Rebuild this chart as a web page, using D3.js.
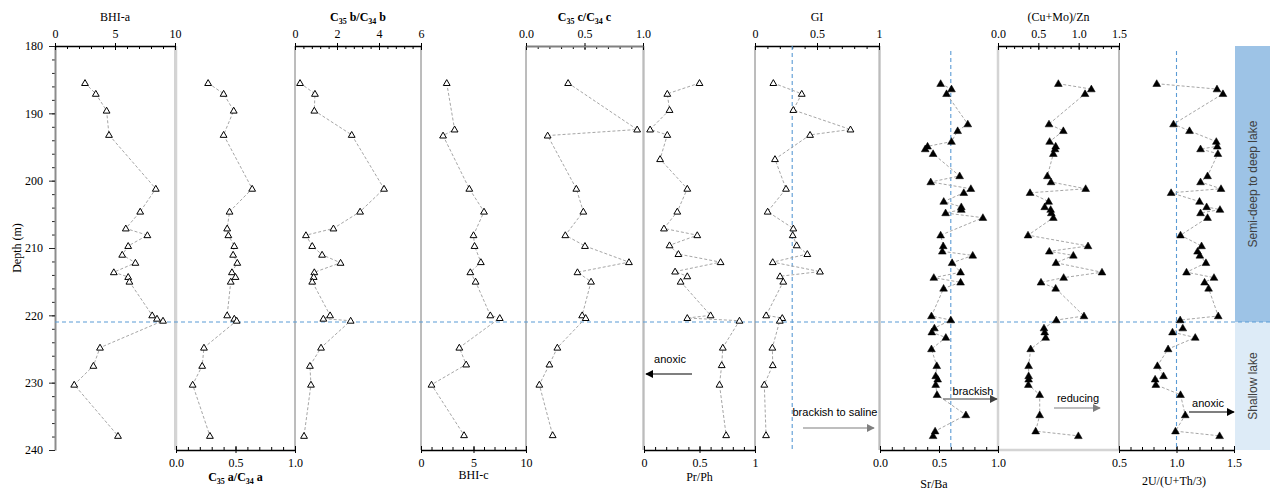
<!DOCTYPE html>
<html><head><meta charset="utf-8">
<script src="https://cdn.jsdelivr.net/npm/d3@7"></script>
<style>body{margin:0;background:#fff}svg{display:block}</style>
</head><body>
<svg id="chart" width="1270" height="494"></svg>
<script>
// ---------------- DATA ----------------
const depthTicks = [180, 190, 200, 210, 220, 230, 240];

// a / b series (BHI-a, C35a/C34a, C35b/C34b)
const depthAB = [185.5, 187.1, 189.6, 193.2, 201.2, 204.6, 207.1, 208.1, 209.7, 211.0, 212.2, 213.6, 214.3, 215.0, 220.0, 220.5, 220.8, 224.8, 227.5, 230.3, 237.9];
const bhiA = [2.5, 3.4, 4.3, 4.5, 8.4, 7.1, 5.9, 7.7, 6.1, 5.6, 6.7, 4.9, 6.1, 6.2, 8.1, 8.5, 9.0, 3.75, 3.2, 1.6, 5.25];
const c35a = [0.27, 0.40, 0.485, 0.40, 0.64, 0.45, 0.43, 0.44, 0.49, 0.48, 0.515, 0.47, 0.50, 0.46, 0.43, 0.49, 0.51, 0.235, 0.22, 0.14, 0.285];
const c35b = [0.24, 0.95, 0.92, 2.7, 4.24, 3.1, 1.83, 0.52, 0.82, 1.29, 2.17, 0.92, 0.89, 0.82, 1.67, 1.35, 2.65, 1.24, 0.71, 0.76, 0.43];

// c series (BHI-c, C35c/C34c)
const depthC = [185.5, 192.4, 193.3, 201.2, 204.6, 208.1, 209.7, 212.1, 213.6, 215.0, 220.0, 220.4, 224.8, 227.3, 230.3, 237.8];
const bhiC = [2.45, 3.2, 2.1, 4.6, 6.0, 5.0, 5.1, 5.7, 4.7, 5.2, 6.6, 7.5, 3.65, 4.3, 1.0, 4.1];
const c35c = [0.36, 0.95, 0.185, 0.43, 0.49, 0.336, 0.504, 0.88, 0.44, 0.556, 0.48, 0.51, 0.268, 0.2, 0.114, 0.228];

// Pr/Ph and GI
const depthPG = [185.5, 187.1, 189.5, 192.4, 193.2, 196.8, 201.2, 204.6, 207.1, 208.1, 209.6, 210.9, 212.1, 213.5, 214.2, 215.0, 220.0, 220.4, 220.8, 224.8, 227.4, 230.3, 237.8];
const prPh = [0.50, 0.21, 0.23, 0.055, 0.21, 0.145, 0.39, 0.30, 0.18, 0.48, 0.23, 0.31, 0.69, 0.28, 0.39, 0.33, 0.60, 0.39, 0.86, 0.71, 0.70, 0.68, 0.74];
const gi = [0.148, 0.377, 0.309, 0.77, 0.444, 0.161, 0.25, 0.102, 0.309, 0.304, 0.336, 0.422, 0.143, 0.524, 0.202, 0.228, 0.09, 0.22, 0.2, 0.14, 0.143, 0.075, 0.089];

// elemental series
const depthEl = [185.6, 186.4, 187.1, 191.6, 192.6, 194.2, 194.9, 195.3, 196.0, 199.3, 200.2, 201.2, 201.8, 203.1, 203.9, 204.3, 204.8, 205.5, 208.1, 209.7, 210.5, 211.1, 212.2, 213.6, 214.4, 215.1, 216.0, 220.1, 220.7, 221.9, 222.5, 223.3, 225.0, 227.5, 229.0, 229.5, 230.3, 231.8, 234.8, 237.2, 237.9];
const srBa = [0.514, 0.606, 0.564, 0.744, 0.658, 0.606, 0.403, 0.383, 0.45, 0.675, 0.43, 0.77, 0.71, 0.54, 0.689, 0.689, 0.556, 0.872, 0.514, 0.536, 0.528, 0.786, 0.611, 0.683, 0.456, 0.683, 0.539, 0.436, 0.6, 0.461, 0.439, 0.558, 0.436, 0.481, 0.472, 0.489, 0.472, 0.483, 0.728, 0.467, 0.45];
const cuMoZn = [0.748, 1.157, 1.079, 0.632, 0.81, 0.64, 0.715, 0.707, 0.686, 0.612, 0.657, 1.087, 0.397, 0.628, 0.579, 0.653, 0.661, 0.686, 0.372, 1.116, 0.636, 0.934, 0.719, 1.289, 0.814, 0.533, 0.715, 1.066, 0.723, 0.57, 0.579, 0.591, 0.405, 0.38, 0.38, 0.38, 0.376, 0.517, 0.517, 0.467, 0.996];
const uTh = [0.828, 1.352, 1.404, 0.974, 1.113, 1.346, 1.355, 1.209, 1.36, 1.27, 1.209, 1.387, 0.953, 1.2, 1.262, 1.378, 1.209, 1.27, 1.035, 1.218, 1.183, 1.203, 1.256, 1.087, 1.326, 1.244, 1.279, 1.363, 1.032, 1.055, 0.965, 1.163, 0.927, 0.834, 0.887, 0.814, 0.82, 1.035, 1.076, 0.991, 1.375];

// reference thresholds
const boundaryDepth = 221;
const giThreshold = 0.3;
const srBaThreshold = 0.6;
const uThThreshold = 1.0;

const zoneLabels = ["Semi-deep to deep lake", "Shallow lake"];

// ---------------- DRAWING ----------------
const svg = d3.select('#chart');
const serif = "'Liberation Serif','Times New Roman',serif";
const sans = "'Liberation Sans',Arial,sans-serif";
const TOP = 46, BOT = 450;
const y = d3.scaleLinear().domain([180, 240]).range([TOP, BOT]);

const f0 = d3.format('d'), f1 = d3.format('.1f');
const fg = d => (d === 0 || d === 1) ? f0(d) : String(d);

const panels = [
  {title: [['BHI-a', 0]], bold: false, x0: 55, x1: 175, dom: [0, 10], major: [0, 5, 10], minor: 1, fmt: f0, side: 'top', depth: depthAB, vals: bhiA, filled: false},
  {title: [['C', 0], ['35', 1], [' a/C', 0], ['34', 1], [' a', 0]], bold: true, x0: 176, x1: 295, dom: [0, 1], major: [0, 0.5, 1], minor: 0.1, fmt: f1, side: 'bottom', depth: depthAB, vals: c35a, filled: false, titleY: 481},
  {title: [['C', 0], ['35', 1], [' b/C', 0], ['34', 1], [' b', 0]], bold: true, x0: 295, x1: 421, dom: [0, 6], major: [0, 2, 4, 6], minor: 0.4, fmt: f0, side: 'top', depth: depthAB, vals: c35b, filled: false},
  {title: [['BHI-c', 0]], bold: false, x0: 421, x1: 526, dom: [0, 10], major: [0, 5, 10], minor: 1, fmt: f0, side: 'bottom', depth: depthC, vals: bhiC, filled: false, titleY: 479},
  {title: [['C', 0], ['35', 1], [' c/C', 0], ['34', 1], [' c', 0]], bold: true, x0: 526, x1: 643, dom: [0, 1], major: [0, 0.5, 1], minor: 0.1, fmt: f1, side: 'top', depth: depthC, vals: c35c, filled: false, axisColor: '#808080', axisW: 2},
  {title: [['Pr/Ph', 0]], bold: false, x0: 644, x1: 755, dom: [0, 1], major: [0, 0.5, 1], minor: 0.1, fmt: fg, side: 'bottom', depth: depthPG, vals: prPh, filled: false, titleY: 481},
  {title: [['GI', 0]], bold: false, x0: 755, x1: 879, dom: [0, 1], major: [0, 0.5, 1], minor: 0.1, fmt: fg, side: 'top', depth: depthPG, vals: gi, filled: false},
  {title: [['Sr/Ba', 0]], bold: false, x0: 880, x1: 998, dom: [0, 1], major: [0, 0.5, 1], minor: 0.1, fmt: f1, side: 'bottom', depth: depthEl, vals: srBa, filled: true, titleY: 488, titleX: 934},
  {title: [['(Cu+Mo)/Zn', 0]], bold: false, x0: 998, x1: 1119, dom: [0, 1.5], major: [0, 0.5, 1, 1.5], minor: 0.1, fmt: f1, side: 'top', depth: depthEl, vals: cuMoZn, filled: true, lightLeft: true},
  {title: [['2U/(U+Th/3)', 0]], bold: false, x0: 1119, x1: 1234, dom: [0.5, 1.5], major: [0.5, 1, 1.5], minor: 0.1, fmt: f1, side: 'bottom', depth: depthEl, vals: uTh, filled: true, titleY: 485, titleX: 1174}
];
panels.forEach(p => { p.x = d3.scaleLinear().domain(p.dom).range([p.x0, p.x1]); });

// zone band
const bandX0 = 1235, bandX1 = 1270;
svg.append('rect').attr('x', bandX0).attr('y', TOP).attr('width', bandX1 - bandX0)
  .attr('height', y(boundaryDepth) - TOP).attr('fill', '#9DC3E6');
svg.append('rect').attr('x', bandX0).attr('y', y(boundaryDepth)).attr('width', bandX1 - bandX0)
  .attr('height', BOT - y(boundaryDepth)).attr('fill', '#DDEBF7');
const bandMid = (bandX0 + bandX1) / 2;
[[zoneLabels[0], (TOP + y(boundaryDepth)) / 2], [zoneLabels[1], (y(boundaryDepth) + BOT) / 2]].forEach(([t, cy]) => {
  svg.append('text').attr('transform', `translate(${bandMid + 4},${cy}) rotate(-90)`)
    .attr('text-anchor', 'middle').attr('font-family', sans).attr('font-size', 12)
    .attr('fill', '#404040').text(t);
});

// panel borders
panels.forEach((p, i) => {
  const g = svg.append('g');
  if (i > 0) {
    g.append('line').attr('x1', p.x0).attr('x2', p.x0).attr('y1', TOP).attr('y2', BOT)
      .attr('stroke', (p.lightLeft || i === 1) ? '#D4D4D4' : '#A6A6A6').attr('stroke-width', (p.lightLeft || i === 1) ? 2.5 : 1);
  }
  if (i < panels.length - 1) {
    g.append('line').attr('x1', p.x1).attr('x2', p.x1).attr('y1', TOP).attr('y2', BOT)
      .attr('stroke', '#A6A6A6').attr('stroke-width', 1);
  }
  if (p.lightLeft) {
    g.append('line').attr('x1', p.x0).attr('x2', p.x1).attr('y1', BOT).attr('y2', BOT)
      .attr('stroke', '#D4D4D4').attr('stroke-width', 2.5);
  }
});

// y axis
const yAxisG = svg.append('g').attr('transform', `translate(55,0)`);
yAxisG.call(d3.axisLeft(y).tickValues(d3.range(180, 240.01, 2)).tickSize(3).tickFormat('').tickSizeOuter(0));
yAxisG.call(g => g.select('.domain').remove());
const yMaj = svg.append('g').attr('transform', `translate(55,0)`)
  .call(d3.axisLeft(y).tickValues(depthTicks).tickSize(6).tickPadding(6).tickSizeOuter(0));
yMaj.select('.domain').attr('stroke', '#8C8C8C').attr('stroke-width', 2);
[yAxisG, yMaj].forEach(g => g.selectAll('.tick line').attr('stroke', '#262626'));
yMaj.selectAll('text').attr('font-family', serif).attr('font-size', 12).attr('fill', '#000');
svg.append('text').attr('transform', `translate(21,${(TOP + BOT) / 2}) rotate(-90)`)
  .attr('text-anchor', 'middle').attr('font-family', serif).attr('font-size', 12).text('Depth (m)');

// x axes
panels.forEach(p => {
  const ty = p.side === 'top' ? TOP : BOT;
  const mk = p.side === 'top' ? d3.axisTop : d3.axisBottom;
  const minorVals = d3.range(p.dom[0], p.dom[1] + 1e-9, p.minor).map(v => +v.toFixed(4));
  // minor ticks (inward)
  const gm = svg.append('g').attr('transform', `translate(0,${ty})`)
    .call(mk(p.x).tickValues(minorVals).tickSize(-3).tickFormat('').tickSizeOuter(0));
  gm.select('.domain').remove();
  // major inward part
  const gi2 = svg.append('g').attr('transform', `translate(0,${ty})`)
    .call(mk(p.x).tickValues(p.major).tickSize(-4).tickFormat('').tickSizeOuter(0));
  gi2.select('.domain').remove();
  // major outward + labels
  const ga = svg.append('g').attr('transform', `translate(0,${ty})`)
    .call(mk(p.x).tickValues(p.major).tickSize(3).tickPadding(5).tickFormat(p.fmt).tickSizeOuter(0));
  ga.select('.domain').attr('stroke', p.axisColor || '#000').attr('stroke-width', p.axisW || 1.3);
  [gm, gi2, ga].forEach(g => g.selectAll('.tick line').attr('stroke', '#000'));
  ga.selectAll('text').attr('font-family', serif).attr('font-size', 12).attr('fill', '#000');

  // title
  const tx = p.titleX || (p.x0 + p.x1) / 2;
  const tyT = p.side === 'top' ? 21 : p.titleY;
  const t = svg.append('text').attr('x', tx).attr('y', tyT).attr('text-anchor', 'middle')
    .attr('font-family', serif).attr('font-size', 12).attr('font-weight', p.bold ? 'bold' : 'normal');
  let sub = false;
  p.title.forEach(([s, isSub]) => {
    const ts = t.append('tspan').text(s);
    if (isSub && !sub) { ts.attr('dy', 3).attr('font-size', 8); sub = true; }
    else if (isSub) { ts.attr('font-size', 8); }
    else if (sub) { ts.attr('dy', -3); sub = false; }
  });
});

// reference lines
const dashBlue = {stroke: '#5B9BD5', w: 1.1, dash: '4,3'};
function refLine(x1, y1, x2, y2) {
  svg.append('line').attr('x1', x1).attr('y1', y1).attr('x2', x2).attr('y2', y2)
    .attr('stroke', dashBlue.stroke).attr('stroke-width', dashBlue.w).attr('stroke-dasharray', dashBlue.dash);
}
refLine(55, y(boundaryDepth), 1270, y(boundaryDepth));
refLine(panels[6].x(giThreshold), TOP, panels[6].x(giThreshold), BOT);
refLine(panels[7].x(srBaThreshold), 51, panels[7].x(srBaThreshold), BOT);
refLine(panels[9].x(uThThreshold), 51, panels[9].x(uThThreshold), BOT);

// series
const tri = d3.symbol().type(d3.symbolTriangle);
panels.forEach(p => {
  const pts = p.depth.map((d, i) => [p.vals[i], d]);
  const line = d3.line().x(d => p.x(d[0])).y(d => y(d[1]));
  svg.append('path').datum(pts).attr('d', line).attr('fill', 'none')
    .attr('stroke', '#A6A6A6').attr('stroke-width', 1).attr('stroke-dasharray', '3,2');
  svg.append('g').selectAll('path').data(pts).join('path')
    .attr('transform', d => `translate(${p.x(d[0])},${y(d[1]) + 0.5})`)
    .attr('d', tri.size(p.filled ? 26 : 20)())
    .attr('fill', p.filled ? '#000' : '#fff')
    .attr('stroke', '#000').attr('stroke-width', p.filled ? 0.5 : 1);
});

// arrows and annotations
const defs = svg.append('defs');
function marker(id, color) {
  defs.append('marker').attr('id', id).attr('viewBox', '0 0 10 10').attr('refX', 9).attr('refY', 5)
    .attr('markerWidth', 8).attr('markerHeight', 8).attr('markerUnits', 'userSpaceOnUse').attr('orient', 'auto')
    .append('path').attr('d', 'M0,0 L10,5 L0,10 z').attr('fill', color);
}
marker('arrBlack', '#000');
marker('arrGray', '#7F7F7F');
marker('arrDark', '#404040');
const notes = [
  {text: 'anoxic', tx: 670, ty: 363, x1: 692, x2: 646, ay: 374, m: 'arrBlack', c: '#000'},
  {text: 'brackish to saline', tx: 835, ty: 416, x1: 803, x2: 874, ay: 428, m: 'arrGray', c: '#7F7F7F'},
  {text: 'brackish', tx: 973, ty: 395, x1: 943, x2: 997, ay: 399, m: 'arrDark', c: '#404040'},
  {text: 'reducing', tx: 1078, ty: 402, x1: 1054, x2: 1100, ay: 408, m: 'arrGray', c: '#7F7F7F'},
  {text: 'anoxic', tx: 1208, ty: 407, x1: 1189, x2: 1234, ay: 412, m: 'arrBlack', c: '#000'}
];
notes.forEach(n => {
  svg.append('text').attr('x', n.tx).attr('y', n.ty).attr('text-anchor', 'middle')
    .attr('font-family', sans).attr('font-size', 11).attr('fill', '#000').text(n.text);
  svg.append('line').attr('x1', n.x1).attr('x2', n.x2).attr('y1', n.ay).attr('y2', n.ay)
    .attr('stroke', n.c).attr('stroke-width', 1.2).attr('marker-end', `url(#${n.m})`);
});
</script>
</body></html>
